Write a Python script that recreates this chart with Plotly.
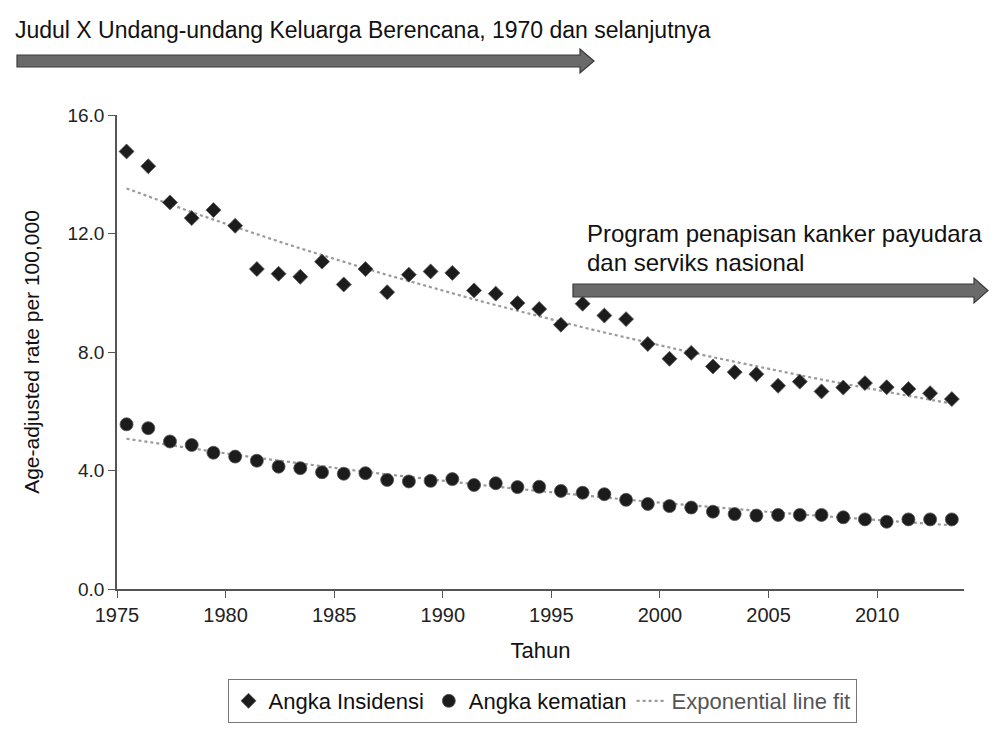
import numpy as np
import plotly.graph_objects as go

# ---------------- data ----------------
years = list(range(1975, 2014))
incidence = [14.77, 14.27, 13.05, 12.52, 12.79, 12.26, 10.80, 10.64, 10.54, 11.05,
             10.28, 10.80, 10.02, 10.61, 10.72, 10.67, 10.08, 9.97, 9.65, 9.45,
             8.92, 9.63, 9.23, 9.11, 8.27, 7.77, 7.97, 7.51, 7.32, 7.25,
             6.86, 7.00, 6.67, 6.80, 6.95, 6.81, 6.75, 6.61, 6.41]
mortality = [5.56, 5.43, 4.98, 4.86, 4.60, 4.47, 4.33, 4.13, 4.08, 3.94,
             3.89, 3.91, 3.68, 3.63, 3.65, 3.71, 3.51, 3.57, 3.44, 3.45,
             3.31, 3.25, 3.20, 3.01, 2.87, 2.80, 2.75, 2.61, 2.53, 2.48,
             2.50, 2.50, 2.50, 2.42, 2.35, 2.27, 2.35, 2.35, 2.35]
x_ticks = [1975, 1980, 1985, 1990, 1995, 2000, 2005, 2010]
y_ticks = [0, 4, 8, 12, 16]

name_inc = "Angka Insidensi"
name_mort = "Angka kematian"
name_fit = "Exponential line fit"
title_top = "Judul X Undang-undang Keluarga Berencana, 1970 dan selanjutnya"
title_prog1 = "Program penapisan kanker payudara"
title_prog2 = "dan serviks nasional"

# ---------------- layout constants ----------------
PAGE_OFF = 8              # default body margin of the html page
W, H = 1000 - PAGE_OFF, 736 - PAGE_OFF
SX0, SX1, SY0, SY1 = 117, 964, 115, 589   # plot area on screen
L, T = SX0 - PAGE_OFF, SY0 - PAGE_OFF
R, B = W - (SX1 - PAGE_OFF), H - (SY1 - PAGE_OFF)
XR = [1975, 2014]
YR = [0, 16]
mid_year = 0.44  # points plotted mid-year

xpos = np.array(years, dtype=float) + mid_year


def expfit(x, y):
    b, a = np.polyfit(x, np.log(y), 1)
    return np.exp(a + b * x)


FONT = "Liberation Sans, Arial, sans-serif"
mark_col = "#1c1c1c"
fit_style = dict(color="#9a9a9a", width=2.2, dash="dot")

fig = go.Figure()
fig.add_trace(go.Scatter(
    x=xpos, y=expfit(xpos, np.array(incidence)), mode="lines",
    name="<span style='color:#555'>" + name_fit + "</span>", legendrank=3,
    line=fit_style,
))
fig.add_trace(go.Scatter(
    x=xpos, y=expfit(xpos, np.array(mortality)), mode="lines",
    showlegend=False, line=fit_style,
))
fig.add_trace(go.Scatter(
    x=xpos, y=incidence, mode="markers", name=name_inc, legendrank=1,
    marker=dict(symbol="diamond", size=11.5, color=mark_col,
                line=dict(color="#555", width=0.8)),
))
fig.add_trace(go.Scatter(
    x=xpos, y=mortality, mode="markers", name=name_mort, legendrank=2,
    marker=dict(symbol="circle", size=13, color=mark_col,
                line=dict(color="#555", width=0.8)),
))

pw = SX1 - SX0
ph = SY1 - SY0


def px(x, y):
    """screen pixel position -> paper coordinates"""
    return (x - SX0) / pw, (SY1 - y) / ph


def arrow_path(x0, x1, xtip, yt, yb, ht, hb):
    pts = [(x0, yt), (x1, yt), (x1, ht), (xtip, (yt + yb) / 2), (x1, hb), (x1, yb), (x0, yb)]
    p = [px(a, b) for a, b in pts]
    return "M " + " L ".join(f"{a:.5f},{b:.5f}" for a, b in p) + " Z"


shapes = [
    dict(type="path", xref="paper", yref="paper",
         path=arrow_path(17, 580, 594, 55, 67, 49, 73),
         fillcolor="#6a6a6a", line=dict(color="#3a3a3a", width=1.2), layer="above"),
    dict(type="path", xref="paper", yref="paper",
         path=arrow_path(573, 974, 988, 284, 297, 278, 303),
         fillcolor="#6a6a6a", line=dict(color="#3a3a3a", width=1.2), layer="above"),
]

annotations = []
for text, (xx, yy), fs in [(title_top, (13, 30), 23), (title_prog1, (585, 233), 24),
                           (title_prog2, (585, 262), 24)]:
    ax, ay = px(xx, yy)
    annotations.append(dict(text=text, x=ax, y=ay, xref="paper", yref="paper",
                            xanchor="left", yanchor="middle", showarrow=False,
                            font=dict(family=FONT, size=fs, color="#111")))

lx, ly = px(542, 701)
fig.update_layout(
    width=W, height=H,
    margin=dict(l=L, r=R, t=T, b=B, autoexpand=False),
    paper_bgcolor="white", plot_bgcolor="white",
    font=dict(family=FONT, size=19, color="#222"),
    shapes=shapes, annotations=annotations,
    showlegend=True,
    legend=dict(orientation="h", x=lx, y=ly, xanchor="center", yanchor="middle",
                bordercolor="#777", borderwidth=1, bgcolor="white",
                font=dict(family=FONT, size=22, color="#111"),
                itemwidth=30, traceorder="normal"),
    xaxis=dict(range=XR, tickvals=x_ticks, ticks="outside", ticklen=7, tickwidth=1.2,
               tickcolor="#555", showline=True, linecolor="#555", linewidth=1.5,
               showgrid=False, zeroline=False, automargin=False,
               tickfont=dict(size=20, color="#222"),
               title=dict(text="Tahun", font=dict(size=22, color="#111"), standoff=18)),
    yaxis=dict(range=YR, tickvals=y_ticks, tickformat=".1f", ticks="outside", ticklen=7,
               tickwidth=1.2, tickcolor="#555", showline=True, linecolor="#555",
               linewidth=1.5, showgrid=False, zeroline=False, automargin=False,
               tickfont=dict(size=19, color="#222"),
               title=dict(text="Age-adjusted rate per 100,000",
                          font=dict(size=21, color="#111"), standoff=22)),
)

fig.write_html("out.html")
